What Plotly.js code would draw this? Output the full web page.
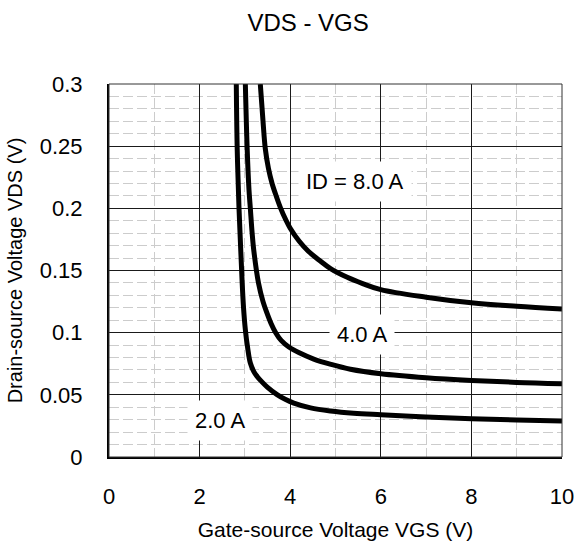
<!DOCTYPE html>
<html>
<head>
<meta charset="utf-8">
<script src="https://cdn.plot.ly/plotly-3.0.1.min.js"></script>
<style>html,body{margin:0;padding:0;background:#fff;}#chart{width:577px;height:546px;}</style>
</head>
<body>
<div id="chart"></div>
<script>
// Data (VGS in V, VDS in V)
var vgs_8A = [3.34, 3.40, 3.45, 3.52, 3.60, 3.70, 3.79, 3.90, 4.00, 4.20, 4.40, 4.65, 4.89, 5.26, 5.60, 6.0, 7.0, 8.0, 9.0, 10.0];
var vds_8A = [0.30, 0.27, 0.248, 0.232, 0.220, 0.209, 0.200, 0.191, 0.184, 0.1735, 0.1655, 0.158, 0.1515, 0.1445, 0.1395, 0.1346, 0.1285, 0.124, 0.1212, 0.119];

var vgs_4A = [3.01, 3.05, 3.09, 3.12, 3.16, 3.20, 3.30, 3.40, 3.49, 3.58, 3.68, 3.80, 3.97, 4.20, 4.52, 4.90, 5.33, 6.0, 7.0, 8.0, 9.0, 10.0];
var vds_4A = [0.30, 0.248, 0.215, 0.20, 0.18, 0.165, 0.140, 0.125, 0.1155, 0.1072, 0.100, 0.0938, 0.0885, 0.0838, 0.0788, 0.0745, 0.0706, 0.067, 0.0638, 0.0616, 0.060, 0.059];

var vgs_2A = [2.81, 2.83, 2.87, 2.91, 2.94, 2.97, 3.01, 3.06, 3.12, 3.20, 3.27, 3.36, 3.50, 3.71, 3.90, 4.08, 4.45, 4.89, 5.40, 6.0, 7.0, 8.0, 9.0, 10.0];
var vds_2A = [0.30, 0.248, 0.20, 0.165, 0.140, 0.12, 0.1024, 0.088, 0.0756, 0.0685, 0.0648, 0.061, 0.056, 0.0502, 0.0462, 0.0434, 0.0395, 0.037, 0.0352, 0.034, 0.0322, 0.0308, 0.0298, 0.029];

var curveLabels = ["ID = 8.0 A", "4.0 A", "2.0 A"];
var labelX = [5.42, 5.59, 2.46];
var labelY = [0.2219, 0.0984, 0.0292];

var xTickVals = [0, 2, 4, 6, 8, 10];
var yTickVals = [0, 0.05, 0.1, 0.15, 0.2, 0.25, 0.3];
var yTickText = ["0", "0.05", "0.1", "0.15", "0.2", "0.25", "0.3"];

var FONT = "Arial, 'Liberation Sans', sans-serif";
var lineStyle = {color: "#000", width: 5, shape: "spline", smoothing: 1};

var traces = [
  {x: vgs_8A, y: vds_8A, mode: "lines", line: lineStyle, hoverinfo: "skip"},
  {x: vgs_4A, y: vds_4A, mode: "lines", line: lineStyle, hoverinfo: "skip"},
  {x: vgs_2A, y: vds_2A, mode: "lines", line: lineStyle, hoverinfo: "skip"}
];

var annotations = curveLabels.map(function (t, i) {
  return {
    x: labelX[i], y: labelY[i], xref: "x", yref: "y",
    text: t, showarrow: false, bgcolor: "#fff", borderpad: 7,
    font: {family: FONT, size: 22, color: "#000"}
  };
});

var layout = {
  width: 577, height: 546,
  margin: {l: 108.5, r: 15.3, t: 84.3, b: 88.7},
  paper_bgcolor: "#fff", plot_bgcolor: "#fff",
  showlegend: false,
  title: {text: "VDS - VGS", x: 0.534, xanchor: "center", y: 0.958, yanchor: "middle",
          font: {family: FONT, size: 24, color: "#000"}},
  xaxis: {
    range: [0, 10], tickvals: xTickVals, ticktext: xTickVals.map(String),
    showgrid: true, gridcolor: "#1a1a1a", gridwidth: 1,
    minor: {dtick: 1, showgrid: true, gridcolor: "#cccccc", griddash: "10px,4px", gridwidth: 1},
    zeroline: false, showline: true, linecolor: "#000", linewidth: 2, mirror: false,
    ticks: "", ticklabelstandoff: 19,
    tickfont: {family: FONT, size: 22, color: "#000"},
    title: {text: "Gate-source Voltage VGS (V)", standoff: 14, font: {family: FONT, size: 21, color: "#000"}},
    fixedrange: true
  },
  yaxis: {
    range: [0, 0.3], tickvals: yTickVals, ticktext: yTickText,
    showgrid: true, gridcolor: "#1a1a1a", gridwidth: 1,
    minor: {dtick: 0.01, showgrid: true, gridcolor: "#cccccc", griddash: "10px,4px", gridwidth: 1},
    zeroline: false, showline: true, linecolor: "#000", linewidth: 2, mirror: false,
    ticks: "", ticklabelstandoff: 20,
    tickfont: {family: FONT, size: 22, color: "#000"},
    title: {text: "Drain-source Voltage VDS (V)", standoff: 12, font: {family: FONT, size: 20, color: "#000"}},
    fixedrange: true
  },
  annotations: annotations,
  shapes: [
    {type: "rect", xref: "paper", yref: "paper", x0: 0, x1: 1, y0: 0, y1: 1,
     line: {color: "#333", width: 1}, fillcolor: "rgba(0,0,0,0)", layer: "above"}
  ]
};

Plotly.newPlot("chart", traces, layout, {staticPlot: true, displayModeBar: false});
</script>
</body>
</html>
